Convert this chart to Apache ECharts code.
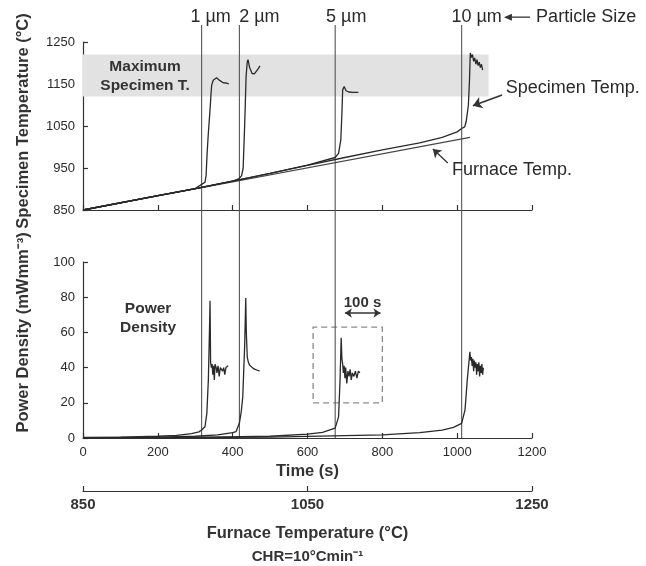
<!DOCTYPE html>
<html lang="en">
<head>
    <meta charset="UTF-8">
    <title>Specimen temperature and power density</title>
    <script src="https://cdn.jsdelivr.net/npm/echarts@6.0.0/dist/echarts.min.js"></script>
    <style>
        html, body { margin: 0; padding: 0; background: #fff; }
        #chart { width: 646px; height: 566px; }
    </style>
</head>
<body>
<div id="chart"></div>
<script>
// ignition lines
const particleSizes = ['1 µm', '2 µm', '5 µm', '10 µm']
const ignitionTimes = [317, 418, 674, 1012]

// top panel: temperature (°C) vs time (s)
const furnaceTemp = [[0, 850], [1034, 1023]]
const specimen1um = [[0, 850], [200, 884], [300, 901], [317, 911], [326, 916], [329, 933], [332, 990], [335, 1033], [338, 1070], [340, 1096], [342, 1125], [344, 1148], [348, 1159], [353, 1163], [357, 1165], [362, 1162], [366, 1158], [371, 1154], [375, 1153], [380, 1154], [384, 1152], [390, 1150]]
const specimen2um = [[0, 850], [200, 884], [300, 901], [400, 919], [416, 924], [424, 932], [428, 950], [432, 1050], [436, 1170], [439, 1203], [441, 1208], [445, 1190], [452, 1175], [458, 1174], [463, 1180], [468, 1186], [473, 1193]]
const specimen5um = [[0, 850], [200, 884], [300, 901], [400, 919], [500, 937], [600, 957], [674, 975], [683, 985], [689, 1017], [692, 1081], [694, 1136], [698, 1144], [703, 1134], [710, 1131], [723, 1130], [736, 1130]]
const specimen10um = [[0, 850], [200, 884], [300, 901], [400, 919], [500, 937], [600, 956], [700, 975], [800, 993], [900, 1010], [960, 1023], [1000, 1036], [1012, 1044], [1020, 1048], [1024, 1060], [1030, 1100], [1033, 1160], [1035, 1224], [1038, 1213], [1041, 1220], [1044, 1204], [1047, 1212], [1050, 1197], [1053, 1208], [1056, 1194], [1059, 1202], [1062, 1189], [1065, 1197], [1068, 1183]]
const maxTempBand = [1120, 1220]
const maxTempBandEnd = 1084

// bottom panel: power density (mW mm^-3) vs time (s)
const power1um = [[0, 0.3], [100, 0.5], [200, 1], [250, 1.5], [290, 2.5], [310, 3.5], [317, 4.5], [326, 6.4], [331, 14], [335, 33], [338, 61], [339.5, 78], [341, 43], [343, 40], [345, 42], [347, 36], [349, 41], [351, 33], [353, 42], [356, 40], [358, 37], [361, 41], [364, 35], [367, 40], [370, 41], [373, 38], [376, 40], [379, 36], [382, 40], [385, 39], [388, 41]]
const power2um = [[0, 0.2], [200, 0.5], [300, 1], [360, 1.8], [400, 3], [409, 3.6], [418, 8.5], [423, 15], [427, 23.5], [432, 52], [435, 79.5], [436.5, 60], [439, 46], [442, 43], [445, 41.5], [450, 40.5], [454, 39.7], [460, 39], [466, 38.5], [472, 38]]
const power5um = [[0, 0], [300, 0.3], [500, 1], [600, 2.2], [640, 3.2], [674, 5.6], [683, 12], [687, 33], [690, 57], [692, 45], [694, 42], [696, 37], [698, 41], [700, 34], [702, 40], [705, 31], [708, 38], [711, 35], [714, 39], [717, 33], [720, 37], [724, 35], [728, 38], [732, 34], [736, 38], [740, 37]]
const power10um = [[0, 0], [500, 0.5], [800, 1.8], [900, 3], [960, 4.5], [990, 6], [1012, 8.3], [1021, 16], [1027, 33], [1034, 49], [1036, 44], [1038, 46], [1040, 41], [1042, 45], [1044, 38], [1046, 44], [1048, 40], [1050, 43], [1052, 36], [1054, 42], [1056, 38], [1058, 43], [1060, 35], [1062, 41], [1064, 37], [1066, 42], [1068, 36], [1070, 40]]
const zoomBox = [[615, 20], [800, 63]]
const scaleBar = [[700, 71], [795, 71]]

const font = "'Liberation Sans', Arial, sans-serif"
const ink = '#2a2a2a'
const axisStyle = { lineStyle: { color: '#333', width: 1.2 } }
const tickStyle = { inside: true, length: 5, lineStyle: { color: '#333', width: 1.2 } }
const plain = v => String(v)
const sizeLabelShift = [9, 20, 11, 15]

function curve(data, x, y) {
    return {
        type: 'line', xAxisIndex: x, yAxisIndex: y, data: data,
        symbol: 'none', silent: true, z: 3,
        lineStyle: { color: ink, width: 1.3 }
    }
}

const series = []
const topCurves = [specimen1um, specimen2um, specimen5um, specimen10um].map(d => curve(d, 0, 0))
const furnace = curve(furnaceTemp, 0, 0)
furnace.lineStyle = { color: '#444', width: 1.2 }
furnace.markArea = {
    silent: true,
    itemStyle: { color: '#e2e2e2' },
    data: [[{ coord: [0, maxTempBand[1]] }, { coord: [maxTempBandEnd, maxTempBand[0]] }]]
}
furnace.markLine = {
    silent: true, symbol: ['none', 'arrow'], symbolSize: 8,
    label: { show: false },
    lineStyle: { color: '#333', width: 1.3, type: 'solid' },
    data: [[{ coord: [975, 962] }, { coord: [935, 995] }]]
}
topCurves[3].markLine = {
    silent: true, symbol: ['none', 'arrow'], symbolSize: 9,
    label: { show: false },
    lineStyle: { color: '#333', width: 1.6, type: 'solid', curveness: -0.3 },
    data: [[{ coord: [1120, 1124] }, { coord: [1042, 1098] }]]
}
series.push(furnace, ...topCurves)

const bottomCurves = [power1um, power2um, power5um, power10um].map(d => curve(d, 1, 1))
bottomCurves[2].markArea = {
    silent: true,
    itemStyle: { color: 'rgba(0,0,0,0)', borderColor: '#8a8a8a', borderWidth: 1.3, borderType: [6, 4] },
    data: [[{ coord: zoomBox[0] }, { coord: zoomBox[1] }]]
}
bottomCurves[2].markLine = {
    silent: true, symbol: ['arrow', 'arrow'], symbolSize: 7,
    label: { show: false },
    lineStyle: { color: '#333', width: 1.6, type: 'solid' },
    data: [[{ coord: scaleBar[0] }, { coord: scaleBar[1] }]]
}
series.push(...bottomCurves)

// vertical ignition lines spanning both panels, labelled at the top
const vLines = ignitionTimes.map((t, i) => ({
    type: 'line', xAxisIndex: 3, yAxisIndex: 2, symbol: 'none', silent: true, z: 1,
    lineStyle: { color: '#555', width: 1.1 },
    data: [[t, 0], [t, 1]],
    markPoint: {
        silent: true, symbol: 'circle', symbolSize: 0,
        label: {
            show: true, position: 'top', distance: 0, offset: [sizeLabelShift[i], 1],
            formatter: particleSizes[i], fontSize: 18, color: ink, fontFamily: font
        },
        data: [{ coord: [t, 1] }]
    }
}))
series.push(...vLines)

const chart = echarts.init(document.getElementById('chart'))
chart.setOption({
    animation: false,
    textStyle: { fontFamily: font, color: ink },
    grid: [
        { left: 83, width: 449, top: 42, height: 168 },
        { left: 83, width: 449, top: 262, height: 176 },
        { left: 83, width: 449, top: 25, height: 413 }
    ],
    xAxis: [
        {
            gridIndex: 0, type: 'value', position: 'bottom', min: 0, max: 1200, interval: 200,
            axisLine: axisStyle, axisTick: tickStyle, axisLabel: { show: false }, splitLine: { show: false }
        },
        {
            gridIndex: 1, type: 'value', position: 'bottom', min: 0, max: 1200, interval: 200,
            axisLine: axisStyle, axisTick: tickStyle, splitLine: { show: false },
            axisLabel: { fontSize: 13, color: ink, margin: 8, formatter: plain },
            name: 'Time (s)', nameLocation: 'middle', nameGap: 25,
            nameTextStyle: { fontSize: 16.5, fontWeight: 'bold', color: '#333' }
        },
        {
            gridIndex: 1, type: 'value', position: 'bottom', min: 850, max: 1250, interval: 200, offset: 53,
            axisLine: axisStyle, axisTick: tickStyle, splitLine: { show: false },
            axisLabel: { fontSize: 15, fontWeight: 'bold', color: '#333', margin: 6, formatter: plain },
            name: '{a|Furnace Temperature (°C)}\n{b|CHR=10°Cmin⁻¹}', nameLocation: 'middle', nameGap: 31,
            nameTextStyle: {
                rich: {
                    a: { fontSize: 16.5, fontWeight: 'bold', color: '#333', lineHeight: 23, fontFamily: font },
                    b: { fontSize: 15, fontWeight: 'bold', color: '#333', lineHeight: 23, fontFamily: font }
                }
            }
        },
        { gridIndex: 2, type: 'value', min: 0, max: 1200, show: false }
    ],
    yAxis: [
        {
            gridIndex: 0, type: 'value', min: 850, max: 1250, interval: 100,
            axisLine: { show: true, ...axisStyle }, axisTick: { show: true, ...tickStyle }, splitLine: { show: false },
            axisLabel: { fontSize: 13, color: ink, margin: 8, formatter: plain }
        },
        {
            gridIndex: 1, type: 'value', min: 0, max: 100, interval: 20,
            axisLine: { show: true, ...axisStyle }, axisTick: { show: true, ...tickStyle }, splitLine: { show: false },
            axisLabel: { fontSize: 13, color: ink, margin: 8, formatter: plain }
        },
        { gridIndex: 2, type: 'value', min: 0, max: 1, show: false }
    ],
    series: series
})

// text annotations placed in data coordinates
function px(grid, p) { return chart.convertToPixel({ gridIndex: grid }, p) }
function note(grid, p, text, opts) {
    const [x, y] = px(grid, p)
    return {
        type: 'text', x: x, y: y, z: 10, silent: true,
        style: Object.assign({ text: text, fill: ink, font: '18px ' + font, textVerticalAlign: 'middle' }, opts)
    }
}
function axisTitle(grid, p, text) {
    const g = note(grid, p, text, { align: 'center', font: 'bold 16.5px ' + font, fill: '#333' })
    g.rotation = Math.PI / 2
    return g
}
// straight arrow from a to b (data coordinates), head at b
function arrow(grid, a, b) {
    const [x1, y1] = px(grid, a)
    const [x2, y2] = px(grid, b)
    const ang = Math.atan2(y2 - y1, x2 - x1)
    const len = 8, half = 3.5
    const bx = x2 - len * Math.cos(ang), by = y2 - len * Math.sin(ang)
    return [
        { type: 'line', z: 10, silent: true, shape: { x1: x1, y1: y1, x2: bx, y2: by }, style: { stroke: '#333', lineWidth: 1.3 } },
        {
            type: 'polygon', z: 10, silent: true,
            shape: { points: [[x2, y2], [bx - half * Math.sin(ang), by + half * Math.cos(ang)], [bx + half * Math.sin(ang), by - half * Math.cos(ang)]] },
            style: { fill: '#333' }
        }
    ]
}
chart.setOption({
    graphic: [
        axisTitle(0, [-160, 1062], 'Specimen Temperature (°C)'),
        axisTitle(1, [-160, 60], 'Power Density (mWmm⁻³)'),
        note(0, [166, 1168], 'Maximum\nSpecimen T.', { align: 'center', font: 'bold 15.5px ' + font, lineHeight: 19, fill: '#333' }),
        note(0, [1130, 1140], 'Specimen Temp.', { align: 'left' }),
        note(0, [986, 945], 'Furnace Temp.', { align: 'left' }),
        note(1, [174, 68], 'Power\nDensity', { align: 'center', font: 'bold 15.5px ' + font, lineHeight: 19, fill: '#333' }),
        note(1, [747, 77], '100 s', { align: 'center', font: 'bold 15px ' + font, fill: '#333' }),
        note(2, [1211, 1.019], 'Particle Size', { align: 'left' }),
        ...arrow(2, [1195, 1.019], [1125, 1.019])
    ]
})
</script>
</body>
</html>
